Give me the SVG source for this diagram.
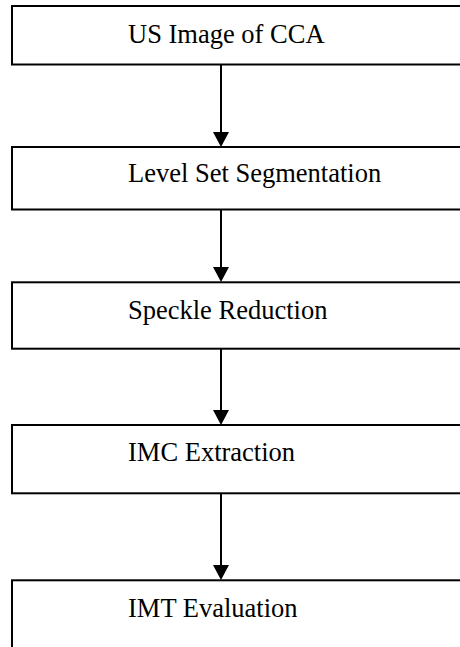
<svg xmlns="http://www.w3.org/2000/svg" width="460" height="647" viewBox="0 0 460 647">
  <style>
    .box { fill: #ffffff; stroke: #000000; stroke-width: 2; }
    .lbl { font-family: "Liberation Serif", "Times New Roman", serif; font-size: 26.5px; fill: #000000; }
    .conn { stroke: #000000; stroke-width: 2; fill: none; }
  </style>
  <defs>
    <marker id="arrow" markerUnits="userSpaceOnUse" markerWidth="16" markerHeight="16" refX="0" refY="8" orient="auto" viewBox="0 0 15 16">
      <path d="M0,0 L15,8 L0,16 z" fill="#000000"/>
    </marker>
  </defs>
  <rect width="460" height="647" fill="#ffffff"/>
  <g id="connectors">
    <line class="conn" x1="221" y1="65" x2="221" y2="132" marker-end="url(#arrow)"/>
    <line class="conn" x1="221" y1="210" x2="221" y2="267" marker-end="url(#arrow)"/>
    <line class="conn" x1="221" y1="349" x2="221" y2="410" marker-end="url(#arrow)"/>
    <line class="conn" x1="221" y1="494" x2="221" y2="565" marker-end="url(#arrow)"/>
  </g>
  <g id="node1">
    <rect class="box" x="12" y="6" width="470" height="58.5"/>
    <text class="lbl" x="128" y="42.7">US Image of CCA</text>
  </g>
  <g id="node2">
    <rect class="box" x="12" y="147" width="470" height="62.5"/>
    <text class="lbl" x="128" y="182.3">Level Set Segmentation</text>
  </g>
  <g id="node3">
    <rect class="box" x="12" y="282.3" width="470" height="66.4"/>
    <text class="lbl" x="128" y="319">Speckle Reduction</text>
  </g>
  <g id="node4">
    <rect class="box" x="12" y="425" width="470" height="68.3"/>
    <text class="lbl" x="128" y="460.7">IMC Extraction</text>
  </g>
  <g id="node5">
    <rect class="box" x="12" y="580.3" width="470" height="100"/>
    <text class="lbl" x="128" y="616.7">IMT Evaluation</text>
  </g>
</svg>
